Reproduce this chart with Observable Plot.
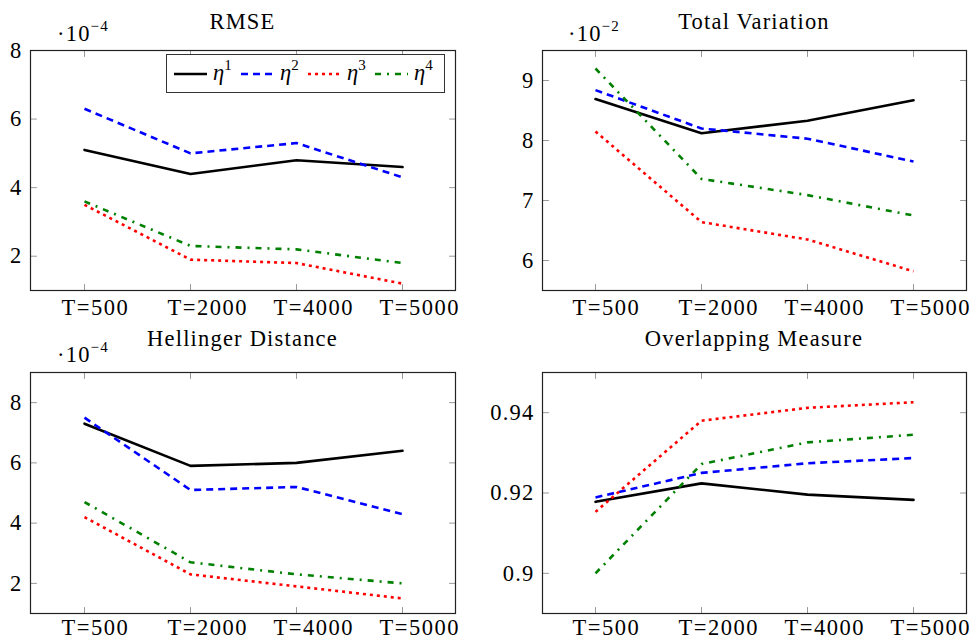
<!DOCTYPE html>
<html>
<head>
<meta charset="utf-8">
<script src="https://cdn.jsdelivr.net/npm/d3@7"></script>
<script src="https://cdn.jsdelivr.net/npm/@observablehq/plot@0.6"></script>
<style>
  body { margin: 0; background: #fff; }
  #root { position: relative; width: 975px; height: 641px; font-family: "Liberation Serif", serif; color: #000; overflow: hidden; background: #fff; letter-spacing: 1.2px; }
  #root svg, #root svg text { font-family: "Liberation Serif", serif !important; font-size: 22.5px !important; }
  .panel { position: absolute; }
  .title { position: absolute; font-size: 22.5px; line-height: 1; white-space: nowrap; transform: translateX(-50%); }
  .expo { position: absolute; font-size: 22.5px; line-height: 1; white-space: nowrap; }
  .expo sup, .legend sup { font-size: 15px; vertical-align: 0; position: relative; top: -10px; font-style: normal; }
  .legend { position: absolute; box-sizing: border-box; border: 1px solid #333; background: #fff; display: flex; align-items: center; padding-left: 7px; font-size: 22.5px; line-height: 1; letter-spacing: 0; }
  .legend .item { display: flex; align-items: center; width: 67px; }
  .legend svg { display: block; margin-right: 6px; }
  .legend .lab { font-style: italic; white-space: nowrap; }
</style>
</head>
<body>
<div id="root"></div>
<script>
// ---- data ----
const categories = ["T=500", "T=2000", "T=4000", "T=5000"];
const seriesNames = ["1", "2", "3", "4"]; // superscripts of η
const seriesColors = ["#000000", "#0000ff", "#ff0000", "#008000"];

// RMSE (×10^-4), rows = η1..η4
const rmse = [
  [5.1, 4.4, 4.8, 4.6],
  [6.3, 5.0, 5.3, 4.3],
  [3.5, 1.9, 1.8, 1.2],
  [3.6, 2.3, 2.2, 1.8]
];
// Total Variation (×10^-2)
const totalVariation = [
  [8.69, 8.12, 8.33, 8.67],
  [8.84, 8.20, 8.03, 7.65],
  [8.15, 6.64, 6.35, 5.82],
  [9.20, 7.36, 7.09, 6.75]
];
// Hellinger Distance (×10^-4)
const hellinger = [
  [7.3, 5.9, 6.0, 6.4],
  [7.5, 5.1, 5.2, 4.3],
  [4.2, 2.3, 1.9, 1.5],
  [4.7, 2.7, 2.3, 2.0]
];
// Overlapping Measure
const overlapping = [
  [0.9178, 0.9224, 0.9196, 0.9183],
  [0.9189, 0.9250, 0.9274, 0.9287],
  [0.9153, 0.9380, 0.9412, 0.9426],
  [0.9000, 0.9272, 0.9326, 0.9345]
];

const rmseTicks = [2, 4, 6, 8];
const tvTicks = [6, 7, 8, 9];
const hellTicks = [2, 4, 6, 8];
const overlapTicks = [0.90, 0.92, 0.94];

// ---- styles ----
const dashes = [null, "7 5", "3 4", "6 6 2 6"];
const lineWidth = 2.6;

const tickShape = {
  draw(context, l) { context.moveTo(0, 0); context.lineTo(0, -l); }
};

function tickMarks(yTicks) {
  const common = { length: 6, anchor: "start", shape: tickShape, stroke: "#999", strokeWidth: 1 };
  return [
    Plot.vector(categories, { x: d => d, frameAnchor: "bottom", rotate: 0, ...common }),
    Plot.vector(categories, { x: d => d, frameAnchor: "top", rotate: 180, ...common }),
    Plot.vector(yTicks, { y: d => d, frameAnchor: "left", rotate: 90, ...common }),
    Plot.vector(yTicks, { y: d => d, frameAnchor: "right", rotate: -90, ...common })
  ];
}

function panel({ values, domain, yTicks, width, height, margins, xPad }) {
  const lines = values.map((row, k) => {
    const rows = categories.map((c, i) => ({ x: c, y: row[i] }));
    return Plot.line(rows, {
      x: "x", y: "y",
      stroke: seriesColors[k],
      strokeWidth: lineWidth,
      strokeDasharray: dashes[k] ?? undefined,
      strokeLinecap: dashes[k] ? "butt" : "round",
      strokeLinejoin: "round"
    });
  });
  const svg = Plot.plot({
    width, height,
    marginTop: margins[0], marginRight: margins[1], marginBottom: margins[2], marginLeft: margins[3],
    style: { fontFamily: "Liberation Serif, serif", fontSize: "22.5px", background: "transparent", color: "#000" },
    x: { type: "point", domain: categories, padding: 0.5, label: null },
    y: { domain, label: null },
    marks: [
      ...tickMarks(yTicks),
      Plot.axisX({ tickSize: 0, tickPadding: xPad, textAnchor: "start", dx: -23, fill: "#000" }),
      Plot.axisY(yTicks, { tickSize: 0, tickPadding: 8, tickFormat: d => String(d), fill: "#000" }),
      ...lines,
      Plot.frame({ stroke: "#222", strokeWidth: 1.2 })
    ]
  });
  svg.querySelectorAll("g[aria-label='x-axis tick label'] text").forEach(t => t.setAttribute("letter-spacing", "1.5"));
  return svg;
}

const root = document.getElementById("root");

function place(el, left, top) {
  const d = document.createElement("div");
  d.className = "panel";
  d.style.left = left + "px";
  d.style.top = top + "px";
  d.appendChild(el);
  root.appendChild(d);
}
function addText(cls, html, left, top) {
  const d = document.createElement("div");
  d.className = cls;
  d.innerHTML = html;
  d.style.left = left + "px";
  d.style.top = top + "px";
  root.appendChild(d);
  return d;
}

place(panel({ values: rmse, domain: [1, 8], yTicks: rmseTicks, width: 487, height: 320, margins: [50, 32, 30, 30], xPad: 9 }), 0, 0);
place(panel({ values: totalVariation, domain: [5.5, 9.5], yTicks: tvTicks, width: 488, height: 320, margins: [50, 9, 30, 55], xPad: 9 }), 487, 0);
place(panel({ values: hellinger, domain: [1, 9], yTicks: hellTicks, width: 487, height: 321, margins: [52, 32, 28, 30], xPad: 6 }), 0, 320);
place(panel({ values: overlapping, domain: [0.89, 0.95], yTicks: overlapTicks, width: 488, height: 321, margins: [52, 9, 28, 55], xPad: 6 }), 487, 320);

// titles
addText("title", "RMSE", 242.5, 11);
addText("title", "Total Variation", 754, 11);
addText("title", "Hellinger Distance", 242.5, 328);
addText("title", "Overlapping Measure", 754, 328);

// scale exponents
addText("expo", "·10<sup>−4</sup>", 57, 23);
addText("expo", "·10<sup>−2</sup>", 568, 23);
addText("expo", "·10<sup>−4</sup>", 57, 344);

// legend
const legend = document.createElement("div");
legend.className = "legend";
legend.style.left = "166px";
legend.style.top = "54px";
legend.style.width = "279px";
legend.style.height = "39px";
seriesNames.forEach((s, k) => {
  const item = document.createElement("div");
  item.className = "item";
  const ns = "http://www.w3.org/2000/svg";
  const svg = document.createElementNS(ns, "svg");
  svg.setAttribute("width", "33");
  svg.setAttribute("height", "10");
  const ln = document.createElementNS(ns, "line");
  ln.setAttribute("x1", "0"); ln.setAttribute("x2", "33");
  ln.setAttribute("y1", "5"); ln.setAttribute("y2", "5");
  ln.setAttribute("stroke", seriesColors[k]);
  ln.setAttribute("stroke-width", lineWidth);
  if (dashes[k]) ln.setAttribute("stroke-dasharray", dashes[k]);
  svg.appendChild(ln);
  item.appendChild(svg);
  const lab = document.createElement("span");
  lab.className = "lab";
  lab.innerHTML = "η<sup>" + s + "</sup>";
  item.appendChild(lab);
  legend.appendChild(item);
});
root.appendChild(legend);
</script>
</body>
</html>
